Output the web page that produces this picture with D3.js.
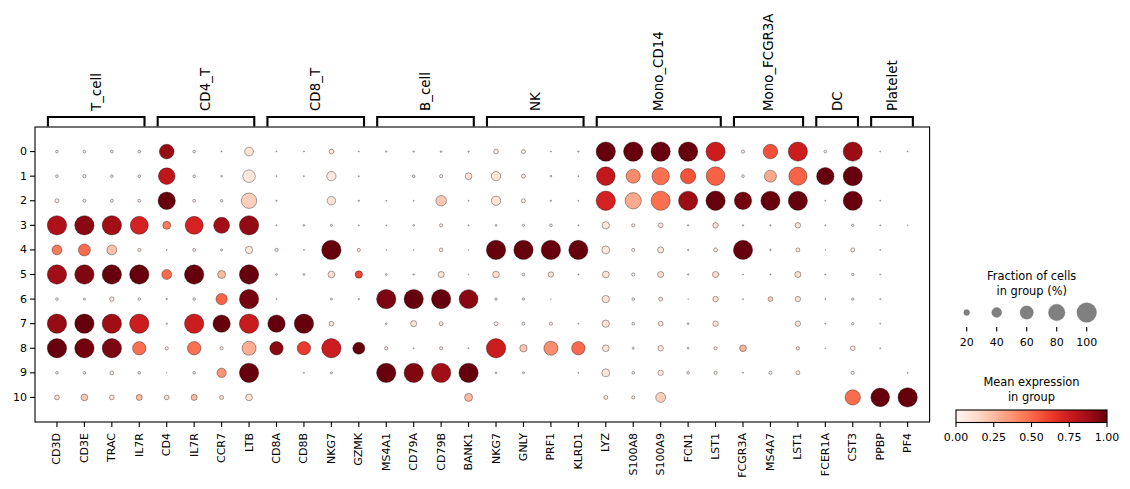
<!DOCTYPE html>
<html>
<head>
<meta charset="utf-8">
<script src="https://cdn.jsdelivr.net/npm/d3@7"></script>
<style>
  body { margin: 0; background: #fff; }
  svg { font-family: "DejaVu Sans", sans-serif; }
</style>
</head>
<body>
<svg id="chart" width="1130" height="489"></svg>
<script>
// genes on the x axis, in plotting order
const genes = ["CD3D","CD3E","TRAC","IL7R","CD4","IL7R","CCR7","LTB","CD8A","CD8B","NKG7","GZMK",
  "MS4A1","CD79A","CD79B","BANK1","NKG7","GNLY","PRF1","KLRD1","LYZ","S100A8","S100A9","FCN1","LST1",
  "FCGR3A","MS4A7","LST1","FCER1A","CST3","PPBP","PF4"];

// marker groups: label, first gene index, last gene index
const groupNames = ["T_cell","CD4_T","CD8_T","B_cell","NK","Mono_CD14","Mono_FCGR3A","DC","Platelet"];
const groupStart = [0, 4, 8, 12, 16, 20, 25, 28, 30];
const groupEnd   = [3, 7, 11, 15, 19, 24, 27, 29, 31];

const clusters = ["0","1","2","3","4","5","6","7","8","9","10"];

// fraction of cells expressing (%), one row per cluster
const fraction = [
  [7,7,7,7, 68,7,2,34, 2,2,15,2, 3,3,4,3, 15,12,2,3, 98,98,98,98,97, 9,67,97, 7,97, 2,2],
  [7,9,7,7, 80,7,4,55, 2,2,37,2, 0,7,9,24, 37,12,4,2, 93,64,85,72,93, 7,52,90, 85,97, 0,0],
  [12,8,8,8, 85,8,6,72, 3,0,33,3, 2,2,44,2, 37,12,3,2, 98,78,97,97,98, 85,97,97, 2,97, 2,0],
  [98,98,98,89, 30,89,76,98, 2,4,5,2, 2,4,9,2, 4,6,7,2, 27,9,15,3,18, 3,3,18, 2,6, 2,1],
  [40,52,40,9, 2,8,5,27, 9,2,98,9, 1,1,11,1, 98,98,98,97, 30,9,21,3,12, 97,3,12, 1,12, 2,0],
  [98,98,98,98, 40,98,30,98, 4,4,24,27, 4,3,21,1, 24,7,18,2, 24,9,21,3,21, 2,2,21, 2,6, 2,0],
  [7,5,14,7, 3,7,48,98, 2,0,5,3, 98,98,98,95, 6,6,1,0, 27,7,12,1,18, 2,15,18, 2,6, 2,0],
  [98,98,98,98, 3,98,85,98, 85,98,15,0, 4,21,12,0, 12,8,9,2, 27,7,15,4,18, 0,0,18, 2,6, 2,0],
  [98,98,98,60, 9,60,9,64, 60,60,98,52, 9,2,9,2, 98,27,64,60, 24,5,18,4,9, 24,0,9, 1,15, 2,0],
  [7,7,11,7, 1,7,37,98, 0,2,5,0, 98,98,98,98, 4,5,0,2, 30,7,18,7,9, 2,9,12, 0,9, 0,2],
  [15,24,15,21, 15,21,12,24, 0,0,0,0, 0,0,0,30, 0,0,0,0, 12,9,40,0,0, 0,0,0, 0,72, 93,98]
];

// mean expression in group (0-1), one row per cluster
const expression = [
  [0.05,0.05,0.05,0.05, 0.9,0.05,0.05,0.1, 0.05,0.05,0.1,0.05, 0.05,0.05,0.05,0.05, 0.08,0.06,0.05,0.05, 1,1,1,1,0.75, 0.06,0.57,0.75, 0.05,0.89, 0.05,0.05],
  [0.05,0.05,0.05,0.05, 0.79,0.05,0.05,0.08, 0.05,0.05,0.08,0.05, 0,0.05,0.05,0.1, 0.1,0.06,0.05,0.05, 0.78,0.4,0.48,0.56,0.52, 0.05,0.3,0.52, 1,1, 0,0],
  [0.06,0.05,0.05,0.05, 1,0.05,0.05,0.18, 0.05,0,0.1,0.05, 0.05,0.05,0.2,0.05, 0.1,0.06,0.05,0.05, 0.72,0.3,0.48,0.89,1, 0.98,1,1, 0.05,1, 0.05,0],
  [0.84,0.93,0.875,0.72, 0.45,0.72,0.875,0.91, 0.05,0.05,0.05,0.05, 0.05,0.05,0.06,0.05, 0.05,0.05,0.05,0.05, 0.07,0.05,0.08,0.05,0.12, 0.05,0.05,0.1, 0.05,0.05, 0.05,0.05],
  [0.45,0.49,0.23,0.06, 0.05,0.05,0.05,0.07, 0.06,0.05,1,0.06, 0.05,0.05,0.06,0.05, 1,1,1,1, 0.07,0.05,0.08,0.05,0.07, 1,0.05,0.07, 0.05,0.07, 0.05,0],
  [0.875,0.95,1,1, 0.49,1,0.25,1, 0.05,0.05,0.12,0.6, 0.05,0.05,0.1,0.05, 0.12,0.05,0.12,0.05, 0.1,0.05,0.12,0.05,0.12, 0.05,0.05,0.12, 0.05,0.05, 0.05,0],
  [0.05,0.05,0.08,0.05, 0.05,0.05,0.52,0.97, 0.05,0,0.05,0.05, 0.96,1,1,0.93, 0.05,0.05,0.05,0, 0.1,0.05,0.08,0.05,0.12, 0.05,0.18,0.1, 0.05,0.05, 0.05,0],
  [0.9,1,0.88,0.75, 0.05,0.75,1,0.76, 1,1,0.1,0, 0.05,0.1,0.06,0, 0.06,0.05,0.05,0.05, 0.1,0.05,0.08,0.05,0.1, 0,0,0.1, 0.05,0.05, 0.05,0],
  [1,0.98,0.96,0.48, 0.06,0.48,0.05,0.29, 0.93,0.63,0.75,1, 0.06,0.05,0.06,0.05, 0.75,0.2,0.39,0.5, 0.1,0.05,0.08,0.05,0.06, 0.27,0,0.06, 0.05,0.08, 0.05,0],
  [0.05,0.05,0.08,0.05, 0.05,0.05,0.37,1, 0,0.05,0.05,0, 1,0.95,0.875,1, 0.05,0.05,0,0.05, 0.08,0.05,0.08,0.05,0.06, 0.05,0.06,0.06, 0,0.05, 0,0.05],
  [0.12,0.2,0.1,0.25, 0.12,0.25,0.12,0.1, 0,0,0,0, 0,0,0,0.25, 0,0,0,0, 0.1,0.1,0.18,0,0, 0,0,0, 0,0.49, 1,1]
];

const sizeTicks = [20, 40, 60, 80, 100];
const colorTicks = [0, 0.25, 0.5, 0.75, 1];

const svg = d3.select("#chart");

// main panel
const pLeft = 35, pRight = 929.6, pTop = 127, pBottom = 422;
const x = d3.scaleLinear([-0.8, genes.length - 0.2], [pLeft, pRight]);
const y = d3.scaleLinear([-1, clusters.length], [pTop, pBottom]);
const step = x(1) - x(0);
const radius = d3.scalePow().exponent(0.75).domain([0, 100]).range([0, 9.82]);
const color = d3.scaleSequential(d3.interpolateReds).domain([0, 1]);

// flatten to cells
const cells = [];
fraction.forEach((row, i) => row.forEach((f, j) =>
  cells.push({ r: i, c: j, f: f, e: expression[i][j] })));

svg.append("g").selectAll("circle")
  .data(cells.filter(d => d.f > 0))
  .join("circle")
    .attr("cx", d => x(d.c))
    .attr("cy", d => y(d.r))
    .attr("r", d => radius(d.f))
    .attr("fill", d => color(d.e))
    .attr("stroke", "#000")
    .attr("stroke-width", 0.35);

svg.append("rect")
  .attr("x", pLeft).attr("y", pTop)
  .attr("width", pRight - pLeft).attr("height", pBottom - pTop)
  .attr("fill", "none").attr("stroke", "#000").attr("stroke-width", 1.1);

// x ticks + gene labels
const xt = svg.append("g");
xt.selectAll("line").data(genes).join("line")
  .attr("x1", (d, i) => x(i)).attr("x2", (d, i) => x(i))
  .attr("y1", pBottom).attr("y2", pBottom + 5)
  .attr("stroke", "#000").attr("stroke-width", 1.1);
xt.selectAll("text").data(genes).join("text")
  .attr("transform", (d, i) => `translate(${x(i)},${pBottom + 11}) rotate(-90)`)
  .attr("text-anchor", "end")
  .attr("dominant-baseline", "central")
  .attr("font-size", 11)
  .text(d => d);

// y ticks + cluster labels
const yt = svg.append("g");
yt.selectAll("line").data(clusters).join("line")
  .attr("x1", pLeft - 5).attr("x2", pLeft)
  .attr("y1", (d, i) => y(i)).attr("y2", (d, i) => y(i))
  .attr("stroke", "#000").attr("stroke-width", 1.1);
yt.selectAll("text").data(clusters).join("text")
  .attr("x", pLeft - 8).attr("y", (d, i) => y(i))
  .attr("text-anchor", "end")
  .attr("dominant-baseline", "central")
  .attr("font-size", 11)
  .text(d => d);

// group brackets
const groups = groupNames.map((n, i) => ({
  name: n,
  x0: x(groupStart[i]) - 0.33 * step,
  x1: x(groupEnd[i]) + 0.19 * step
}));
const br = svg.append("g");
br.selectAll("path").data(groups).join("path")
  .attr("d", d => `M${d.x0},${pTop - 0.5}V117H${d.x1}V${pTop - 0.5}`)
  .attr("fill", "none").attr("stroke", "#000").attr("stroke-width", 2.1);
br.selectAll("text").data(groups).join("text")
  .attr("transform", d => `translate(${(d.x0 + d.x1) / 2},111) rotate(-90)`)
  .attr("text-anchor", "start")
  .attr("dominant-baseline", "central")
  .attr("font-size", 13.4)
  .text(d => d.name);

// size legend
const lg = svg.append("g");
const lx = d3.scaleLinear([20, 100], [966.7, 1086.7]);
lg.append("text").attr("x", 1031.7).attr("y", 276).attr("text-anchor", "middle")
  .attr("dominant-baseline", "central").attr("font-size", 11.4).text("Fraction of cells");
lg.append("text").attr("x", 1031.7).attr("y", 291).attr("text-anchor", "middle")
  .attr("dominant-baseline", "central").attr("font-size", 11.4).text("in group (%)");
lg.selectAll("circle").data(sizeTicks).join("circle")
  .attr("cx", d => lx(d)).attr("cy", 312.5)
  .attr("r", d => radius(d))
  .attr("fill", "#808080").attr("stroke", "#666").attr("stroke-width", 0.3);
lg.selectAll("line").data(sizeTicks).join("line")
  .attr("x1", d => lx(d)).attr("x2", d => lx(d))
  .attr("y1", 327).attr("y2", 331.5)
  .attr("stroke", "#000").attr("stroke-width", 1.1);
lg.selectAll("text.tk").data(sizeTicks).join("text").attr("class", "tk")
  .attr("x", d => lx(d)).attr("y", 342)
  .attr("text-anchor", "middle").attr("dominant-baseline", "central")
  .attr("font-size", 11).text(d => d);

// colour bar
const cb = svg.append("g");
const cbx = d3.scaleLinear([0, 1], [956, 1107]);
const grad = svg.append("defs").append("linearGradient").attr("id", "reds");
d3.range(0, 1.0001, 0.05).forEach(t =>
  grad.append("stop").attr("offset", t).attr("stop-color", color(t)));
cb.append("text").attr("x", 1031.5).attr("y", 382).attr("text-anchor", "middle")
  .attr("dominant-baseline", "central").attr("font-size", 11.4).text("Mean expression");
cb.append("text").attr("x", 1031.5).attr("y", 397).attr("text-anchor", "middle")
  .attr("dominant-baseline", "central").attr("font-size", 11.4).text("in group");
cb.append("rect").attr("x", cbx(0)).attr("y", 410)
  .attr("width", cbx(1) - cbx(0)).attr("height", 12.5)
  .attr("fill", "url(#reds)").attr("stroke", "#000").attr("stroke-width", 1.1);
cb.selectAll("line").data(colorTicks).join("line")
  .attr("x1", d => cbx(d)).attr("x2", d => cbx(d))
  .attr("y1", 422.5).attr("y2", 427)
  .attr("stroke", "#000").attr("stroke-width", 1.1);
cb.selectAll("text.tk").data(colorTicks).join("text").attr("class", "tk")
  .attr("x", d => cbx(d)).attr("y", 437)
  .attr("text-anchor", "middle").attr("dominant-baseline", "central")
  .attr("font-size", 11).text(d => d.toFixed(2));
</script>
</body>
</html>
